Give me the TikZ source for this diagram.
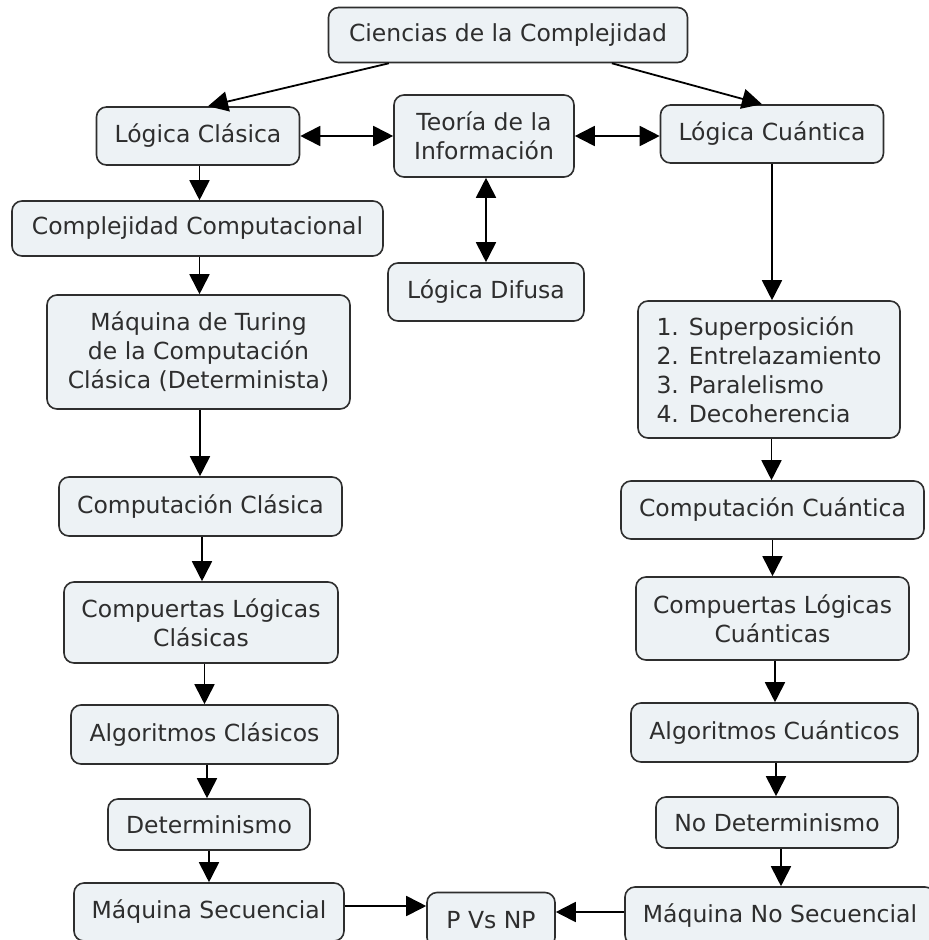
\documentclass[tikz,border=0pt]{standalone}
\usepackage{fontspec}
\setmainfont{DejaVu Sans}
\usetikzlibrary{arrows.meta}
\definecolor{boxfill}{HTML}{EDF2F5}
\definecolor{ink}{HTML}{2E2E2E}
\begin{document}
\begin{tikzpicture}[x=1pt,y=-1pt,
  concept/.style={draw=ink, line width=1.6pt, fill=boxfill, rounded corners=10pt,
    text=ink, inner sep=0pt, align=center, font=\fontsize{23.5}{29}\selectfont},
  tip/.tip={Triangle[length=20pt,width=20pt]},
  arr/.style={draw=black, line width=1.8pt, -tip},
  biarr/.style={draw=black, line width=1.8pt, tip-tip}]
\useasboundingbox (0,0) rectangle (929,940);
\clip (0,0) rectangle (929,940);
\fill[white] (0,0) rectangle (929,940);

% top level
\node[concept, minimum width=359pt, minimum height=55pt] (cien) at (508,35) {Ciencias de la Complejidad};
\node[concept, minimum width=203pt, minimum height=58pt] (lclas) at (198,136) {Lógica Clásica};
\node[concept, minimum width=180pt, minimum height=82pt] (teoria) at (484,136) {Teoría de la\\Información};
\node[concept, minimum width=223pt, minimum height=58pt] (lcuan) at (772,134) {Lógica Cuántica};
\node[concept, minimum width=196pt, minimum height=58pt] (difusa) at (486,292) {Lógica Difusa};

% classical branch
\node[concept, minimum width=371pt, minimum height=55pt] (complej) at (197.5,228.5) {Complejidad Computacional};
\node[concept, minimum width=303pt, minimum height=114pt] (turing) at (198.5,352) {Máquina de Turing\\de la Computación\\Clásica (Determinista)};
\node[concept, minimum width=283pt, minimum height=59pt] (compclas) at (200.5,506.5) {Computación Clásica};
\node[concept, minimum width=274pt, minimum height=81pt] (puertclas) at (201,622.5) {Compuertas Lógicas\\Clásicas};
\node[concept, minimum width=267pt, minimum height=59pt] (algclas) at (204.5,734.5) {Algoritmos Clásicos};
\node[concept, minimum width=202pt, minimum height=51pt] (det) at (209,824.5) {Determinismo};
\node[concept, minimum width=270pt, minimum height=58pt] (maqsec) at (209,912) {Máquina Secuencial};

% quantum branch
\node[concept, align=left, minimum width=262pt, minimum height=137pt] (lista) at (769,369.5) {1. Superposición\\2. Entrelazamiento\\3. Paralelismo\\4. Decoherencia};
\node[concept, minimum width=303pt, minimum height=58pt] (compcuan) at (772.5,510) {Computación Cuántica};
\node[concept, minimum width=273pt, minimum height=83pt] (puertcuan) at (772.5,618.5) {Compuertas Lógicas\\Cuánticas};
\node[concept, minimum width=287pt, minimum height=59pt] (algcuan) at (774.5,732.5) {Algoritmos Cuánticos};
\node[concept, minimum width=242pt, minimum height=51pt] (nodet) at (777,822.5) {No Determinismo};
\node[concept, minimum width=310pt, minimum height=58pt] (maqnosec) at (780,916) {Máquina No Secuencial};

% meeting point
\node[concept, minimum width=128pt, minimum height=55pt] (pvsnp) at (491,920) {P Vs NP};

% connectors
\draw[arr] (cien) -- ([xshift=10pt]lclas.north);
\draw[arr] (cien) -- ([xshift=-10pt]lcuan.north);
\draw[biarr] (lclas.east) -- (lclas.east -| teoria.west);
\draw[biarr] (teoria.east) -- (teoria.east -| lcuan.west);
\draw[biarr] (teoria.south -| difusa.north) -- (difusa.north);

\draw[arr] ([xshift=1.5pt]lclas.south) -- ([xshift=1.5pt]lclas.south |- complej.north);
\draw[arr] ([xshift=2pt]complej.south) -- ([xshift=2pt]complej.south |- turing.north);
\draw[arr] ([xshift=1.5pt]turing.south) -- ([xshift=1.5pt]turing.south |- compclas.north);
\draw[arr] ([xshift=1.5pt]compclas.south) -- ([xshift=1.5pt]compclas.south |- puertclas.north);
\draw[arr] ([xshift=3.5pt]puertclas.south) -- ([xshift=3.5pt]puertclas.south |- algclas.north);
\draw[arr] ([xshift=2.5pt]algclas.south) -- ([xshift=2.5pt]algclas.south |- det.north);
\draw[arr] (det.south) -- (det.south |- maqsec.north);

\draw[arr] (lcuan.south) -- (lcuan.south |- lista.north);
\draw[arr] ([xshift=2.5pt]lista.south) -- ([xshift=2.5pt]lista.south |- compcuan.north);
\draw[arr] (compcuan.south) -- (compcuan.south |- puertcuan.north);
\draw[arr] ([xshift=2.5pt]puertcuan.south) -- ([xshift=2.5pt]puertcuan.south |- algcuan.north);
\draw[arr] ([xshift=1.5pt]algcuan.south) -- ([xshift=1.5pt]algcuan.south |- nodet.north);
\draw[arr] ([xshift=4pt]nodet.south) -- ([xshift=4pt]nodet.south |- maqnosec.north);

\draw[arr] ([yshift=6pt]maqsec.east) -- ([yshift=6pt]maqsec.east -| pvsnp.west);
\draw[arr] ([yshift=4pt]maqnosec.west) -- ([yshift=4pt]maqnosec.west -| pvsnp.east);
\end{tikzpicture}
\end{document}
